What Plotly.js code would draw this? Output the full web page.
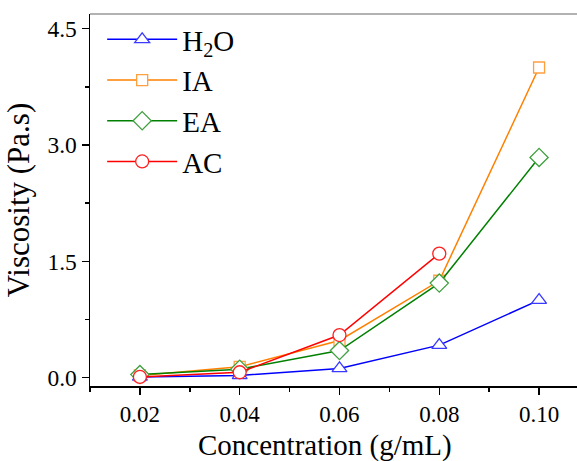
<!DOCTYPE html>
<html><head><meta charset="utf-8">
<script src="https://cdn.plot.ly/plotly-3.0.1.min.js"></script>
<style>html,body{margin:0;padding:0;background:#fff;}</style>
</head><body><div id="chart" style="width:577px;height:461px;"></div>
<script>
const concentration = [0.02, 0.04, 0.06, 0.08, 0.10];
const h2o = [0.01, 0.03, 0.12, 0.42, 1.00];
const ia  = [0.03, 0.14, 0.48, 1.25, 4.00];
const ea  = [0.04, 0.11, 0.35, 1.22, 2.84];
const acConc = [0.02, 0.04, 0.06, 0.08];
const ac  = [0.01, 0.07, 0.55, 1.60];
const names = ['H<sub>2</sub>O', 'IA', 'EA', 'AC'];
const xTitle = 'Concentration (g/mL)';
const yTitle = 'Viscosity (Pa.s)';

function tr(x, y, name, lineColor, markColor, symbol, size) {
  return {x: x, y: y, name: name, type: 'scatter', mode: 'lines+markers',
    line: {color: lineColor, width: 1.5},
    marker: {symbol: symbol, size: size, color: 'rgba(255,255,255,1)', line: {color: markColor, width: 1.3}},
    cliponaxis: false};
}
const data = [
  tr(concentration, h2o, names[0], '#0000ff', '#3a3aff', 'triangle-up', 13),
  tr(concentration, ia, names[1], '#ff8000', '#ffa040', 'square', 11),
  tr(concentration, ea, names[2], '#008000', '#40a040', 'diamond', 14),
  tr(acConc, ac, names[3], '#ff0000', '#ff2020', 'circle', 13)
];
const font = {family: 'Liberation Serif, Times New Roman, serif', color: '#000', weight: 'normal'};
const layout = {
  width: 577, height: 461,
  margin: {l: 90, r: 0, t: 14, b: 75},
  paper_bgcolor: '#fff', plot_bgcolor: '#fff',
  font: Object.assign({size: 23}, font),
  showlegend: true,
  legend: {x: 0.025, y: 1.0, xanchor: 'left', yanchor: 'top', bgcolor: 'rgba(0,0,0,0)',
    font: Object.assign({size: 29}, font), itemwidth: 70, tracegroupgap: 0},
  xaxis: {range: [0.01, 0.1076], dtick: 0.02, tick0: 0, tickformat: '.2f',
    showgrid: false, zeroline: false, showline: true, linecolor: '#000', linewidth: 1.5,
    ticks: 'outside', ticklen: 7, tickwidth: 1.5, tickcolor: '#000',
    tickfont: Object.assign({size: 23}, font),
    minor: {dtick: 0.01, ticks: 'outside', ticklen: 4, tickwidth: 1.5, tickcolor: '#000', showgrid: false}},
  yaxis: {range: [-0.107, 4.69], dtick: 1.5, tick0: 0, tickformat: '.1f',
    showgrid: false, zeroline: false, showline: true, linecolor: '#000', linewidth: 1.5,
    ticks: 'outside', ticklen: 7, tickwidth: 1.5, tickcolor: '#000',
    tickfont: Object.assign({size: 23.5}, font),
    minor: {dtick: 0.75, ticks: 'outside', ticklen: 4, tickwidth: 1.5, tickcolor: '#000', showgrid: false},
    title: {text: yTitle, font: Object.assign({size: 31}, font), standoff: 8}},
  annotations: [{text: xTitle, xref: 'paper', yref: 'paper', x: 0.4825, y: 0, yshift: -41,
    xanchor: 'center', yanchor: 'top', showarrow: false, font: Object.assign({size: 29}, font)}],
  shapes: [{type: 'line', xref: 'paper', yref: 'paper', x0: 0, x1: 1, y0: 1, y1: 1,
    line: {color: '#999', width: 1.5}}]
};
Plotly.newPlot('chart', data, layout, {displayModeBar: false, staticPlot: true});
</script></body></html>
